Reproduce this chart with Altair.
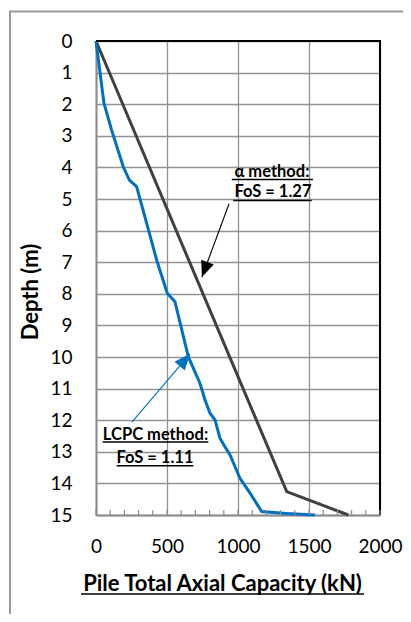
import math
import altair as alt
import pandas as pd

# ---------------- data ----------------
lcpc_capacity = [0, 56, 110, 192, 235, 286, 357, 427, 502, 556, 650, 732, 768, 803,
                 838, 873, 908, 944, 991, 1014, 1085, 1167, 1343, 1542]
lcpc_depth = [0, 1.97, 2.82, 3.98, 4.40, 4.61, 5.77, 6.93, 7.98, 8.25, 9.99, 10.83,
              11.36, 11.78, 11.99, 12.57, 12.84, 13.10, 13.60, 13.84, 14.31, 14.89,
              14.95, 15.0]
alpha_capacity = [0, 1343, 1777]
alpha_depth = [0, 14.26, 15.0]

x_ticks = [0, 500, 1000, 1500, 2000]
x_minor = list(range(0, 2001, 100))
y_ticks = list(range(0, 16))

ann_labels = ["α method:", "FoS = 1.27", "LCPC method:", "FoS = 1.11"]
ann_x = [1239, 1246, 419, 415]
ann_depth = [4.29, 4.93, 12.63, 13.35]
ul_x1 = [956, 967, 47, 146]
ul_x2 = [1528, 1519, 791, 685]
ul_depth = [4.38, 5.05, 12.69, 13.44]

arrow_names = ["alpha", "LCPC"]
arrow_start_x = [937, 253]
arrow_start_depth = [5.15, 12.06]
arrow_tip_x = [746, 662]
arrow_tip_depth = [7.47, 9.90]

# ---------------- layout ----------------
W, H = 284, 474
XMAX, YMAX = 2000, 15
DARK, BLUE = "#404040", "#0070C0"
GRID = "#929292"
FONT = "Lato"

rows = []
for i, (c, d) in enumerate(zip(alpha_capacity, alpha_depth)):
    rows.append({"method": "alpha", "capacity": c, "depth": d, "seq": i})
for i, (c, d) in enumerate(zip(lcpc_capacity, lcpc_depth)):
    rows.append({"method": "LCPC", "capacity": c, "depth": d, "seq": i})
lines_df = pd.DataFrame(rows)

ann_df = pd.DataFrame({"label": ann_labels, "x": ann_x, "depth": ann_depth})
ul_df = pd.DataFrame({"x1": ul_x1, "x2": ul_x2, "depth": ul_depth})

angles = []
for sx, sd, tx, td in zip(arrow_start_x, arrow_start_depth, arrow_tip_x, arrow_tip_depth):
    dx = (tx - sx) * W / XMAX
    dy = (td - sd) * H / YMAX
    angles.append((math.degrees(math.atan2(dx, -dy)) + 360) % 360)
arrow_df = pd.DataFrame({"name": arrow_names, "sx": arrow_start_x, "sd": arrow_start_depth,
                         "tx": arrow_tip_x, "td": arrow_tip_depth, "angle": angles})
minor_df = pd.DataFrame({"x": x_minor})

x_scale = alt.Scale(domain=[0, XMAX], nice=False, zero=False)
y_scale = alt.Scale(domain=[0, YMAX], reverse=True, nice=False, zero=False)
color_scale = alt.Scale(domain=["alpha", "LCPC"], range=[DARK, BLUE])
arrow_color = alt.Scale(domain=["alpha", "LCPC"], range=["#000000", BLUE])

x_axis = alt.Axis(
    orient="bottom", values=x_ticks, format="d", grid=True, ticks=False, tickSize=0,
    labelPadding=22.5, labelFont=FONT, labelFontSize=19, labelColor="black",
    labelFlush=False, labelOverlap=False, domainColor="#8c8c8c", domainWidth=2,
    gridColor=GRID, gridWidth=1.3,
    title="Pile Total Axial Capacity (kN)", titleFont=FONT, titleFontSize=22,
    titleFontWeight="bold", titleColor="black", titleX=126, titleY=75.7,
    titleBaseline="alphabetic", titleAlign="center",
)
y_axis = alt.Axis(
    orient="left", values=y_ticks, format="d", grid=True, ticks=False, tickSize=0,
    labelPadding=24, labelAlign="right", labelFont=FONT, labelFontSize=19,
    labelColor="black", labelFlush=False, labelOverlap=False,
    domainColor="#8c8c8c", domainWidth=2, gridColor=GRID, gridWidth=1.3,
    title="Depth (m)", titleFont=FONT, titleFontSize=22, titleFontWeight="bold",
    titleColor="black", titleAngle=270, titleX=-59, titleY=250.5,
    titleBaseline="alphabetic", titleAlign="center",
)

lines = alt.Chart(lines_df).mark_line(strokeWidth=3).encode(
    x=alt.X("capacity:Q", scale=x_scale, axis=x_axis),
    y=alt.Y("depth:Q", scale=y_scale, axis=y_axis),
    color=alt.Color("method:N", scale=color_scale, legend=None),
    detail="method:N",
    order="seq:Q",
)

one = pd.DataFrame({"k": [0]})
border_top = alt.Chart(one).mark_rule(color="black", strokeWidth=2).encode(
    x=alt.value(0), x2=alt.value(W + 1), y=alt.value(0),
)
border_right = alt.Chart(one).mark_rule(color="black", strokeWidth=2).encode(
    x=alt.value(W), y=alt.value(-1), y2=alt.value(H),
)

minor = alt.Chart(minor_df).mark_rule(color="#8c8c8c", strokeWidth=1.2).encode(
    x=alt.X("x:Q", scale=x_scale, axis=None),
    y=alt.value(H),
    y2=alt.value(H - 5),
)

arrow_lines = alt.Chart(arrow_df).mark_rule(strokeWidth=1.1).encode(
    x=alt.X("sx:Q", scale=x_scale, axis=None),
    y=alt.Y("sd:Q", scale=y_scale, axis=None),
    x2="tx:Q", y2="td:Q",
    color=alt.Color("name:N", scale=arrow_color, legend=None),
)
arrow_heads = alt.Chart(arrow_df).mark_point(
    shape="M0,0L0.42,1L-0.42,1Z", filled=True, opacity=1, size=1024, strokeWidth=0,
).encode(
    x=alt.X("tx:Q", scale=x_scale, axis=None),
    y=alt.Y("td:Q", scale=y_scale, axis=None),
    angle=alt.Angle("angle:Q", scale=None),
    color=alt.Color("name:N", scale=arrow_color, legend=None),
)

texts = alt.Chart(ann_df).mark_text(
    font=FONT, fontSize=16.5, fontWeight="bold", color="black",
    align="center", baseline="alphabetic",
).encode(
    x=alt.X("x:Q", scale=x_scale, axis=None),
    y=alt.Y("depth:Q", scale=y_scale, axis=None),
    text="label:N",
)
underlines = alt.Chart(ul_df).mark_rule(color="black", strokeWidth=1.5).encode(
    x=alt.X("x1:Q", scale=x_scale, axis=None),
    x2="x2:Q",
    y=alt.Y("depth:Q", scale=y_scale, axis=None),
)

title_ul = alt.Chart(one).mark_rule(color="black", strokeWidth=1.5).encode(
    x=alt.value(-15), x2=alt.value(268), y=alt.value(553),
)
frame_left = alt.Chart(one).mark_rule(color="#9a9a9a", strokeWidth=2).encode(
    x=alt.value(-86), y=alt.value(-29.5), y2=alt.value(600),
)
frame_top = alt.Chart(one).mark_rule(color="#9a9a9a", strokeWidth=2).encode(
    x=alt.value(-87), x2=alt.value(330), y=alt.value(-29.5),
)

chart = alt.layer(
    lines, border_top, border_right, minor, arrow_lines, arrow_heads, underlines, texts,
    title_ul, frame_left, frame_top
).resolve_axis(x="independent", y="independent").resolve_scale(color="independent").properties(
    width=W, height=H, autosize="none",
    padding={"left": 88, "top": 33, "right": 23, "bottom": 99},
).configure_view(stroke=None).configure(background="white")

chart.save("out.html", embed_options={"renderer": "svg", "actions": False})
